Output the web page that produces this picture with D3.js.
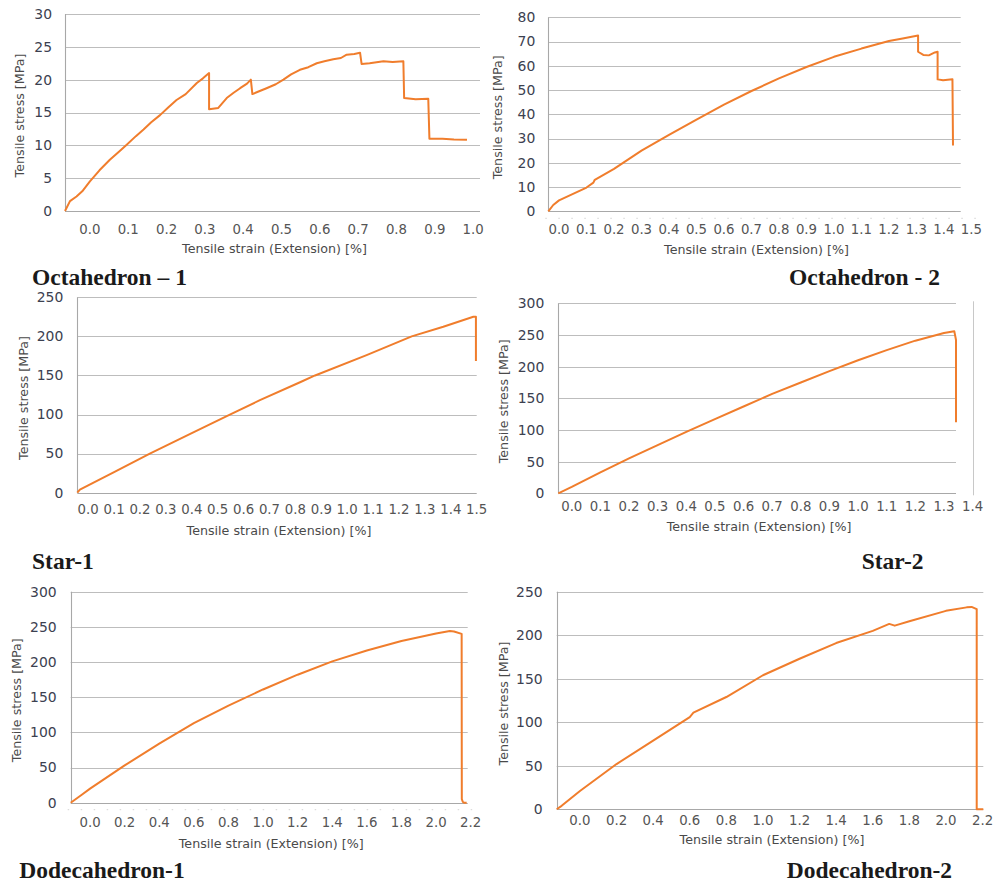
<!DOCTYPE html>
<html><head><meta charset="utf-8">
<script src="https://cdn.jsdelivr.net/npm/d3@7/dist/d3.min.js"></script>
<style>
body{margin:0;background:#fff;}
svg{display:block;}
.sans{font-family:"DejaVu Sans",Verdana,sans-serif;}
.ptitle{font-family:"Liberation Serif","Times New Roman",serif;font-weight:bold;font-size:23.5px;fill:#1a1a1a;}
</style>
</head><body>
<svg id="c" width="995" height="886"></svg>
<script>
// ---------- DATA ----------
const titles = ["Octahedron \u2013 1", "Octahedron - 2", "Star-1", "Star-2", "Dodecahedron-1", "Dodecahedron-2"];
const xLabel = "Tensile strain (Extension) [%]";
const yLabel = "Tensile stress [MPa]";

const octa1Strain = [-0.065,-0.052,-0.035,-0.02,0.0,0.025,0.052,0.075,0.096,0.12,0.14,0.16,0.183,0.205,0.226,0.25,0.279,0.295,0.311,0.311,0.335,0.357,0.375,0.392,0.41,0.42,0.424,0.44,0.461,0.485,0.505,0.525,0.548,0.57,0.592,0.612,0.635,0.655,0.67,0.69,0.705,0.709,0.73,0.766,0.79,0.818,0.82,0.85,0.883,0.886,0.92,0.95,0.984];
const octa1Stress = [0,1.5,2.2,3.0,4.5,6.2,7.8,9.0,10.1,11.4,12.4,13.5,14.6,15.8,16.9,17.8,19.5,20.2,21.0,15.5,15.7,17.2,18.0,18.7,19.4,20.0,17.8,18.2,18.7,19.3,20.0,20.8,21.5,21.9,22.5,22.8,23.1,23.3,23.8,23.9,24.1,22.4,22.5,22.8,22.7,22.8,17.2,17.0,17.1,11.0,11.0,10.9,10.85];

const octa2Strain = [-0.039,-0.021,0.0,0.1,0.125,0.13,0.2,0.3,0.4,0.5,0.6,0.7,0.8,0.9,1.0,1.1,1.2,1.25,1.306,1.306,1.325,1.345,1.367,1.377,1.377,1.397,1.431,1.433];
const octa2Stress = [0,2.6,4.5,9.8,11.8,13.0,17.5,25,31.5,37.8,44,49.6,54.8,59.5,63.7,67.1,70.2,71.3,72.5,65.8,64.5,64.3,65.5,65.8,54.4,54.0,54.5,27.1];

const star1Strain = [-0.042,-0.032,0.0,0.1,0.238,0.4,0.547,0.663,0.818,0.876,1.075,1.249,1.371,1.487,1.497,1.497];
const star1Stress = [0,4,9.4,26.4,50,76.2,100,118.4,141.3,150,176,200,212.4,225.2,225.2,168.5];

const star2Strain = [-0.047,0.0,0.1,0.2,0.3,0.4,0.5,0.6,0.7,0.8,0.9,1.0,1.1,1.2,1.3,1.336,1.342,1.342];
const star2Stress = [0,10,33,55,76,97,117,137,157,175,193,210,226,241,253,256,242,112];

const dode1Strain = [-0.112,-0.05,0.0,0.2,0.4,0.6,0.8,1.0,1.2,1.4,1.6,1.8,2.0,2.08,2.104,2.148,2.149,2.155,2.162,2.177];
const dode1Stress = [0,11,20,53,84,113,138,161,182,201,216.5,230,240.5,244,243.5,240,5,1,0,0];

const dode2Strain = [-0.127,-0.1,0.0,0.2,0.4,0.6,0.62,0.8,1.0,1.2,1.4,1.6,1.69,1.72,1.8,2.0,2.113,2.14,2.168,2.168,2.204];
const dode2Stress = [0,4,21,52,79,106,111,129,154,173,191,205,213,211,216,228,232,232.5,230,0,0];

const xTicksA = [0.0,0.1,0.2,0.3,0.4,0.5,0.6,0.7,0.8,0.9,1.0];
const xTicksB = [0.0,0.1,0.2,0.3,0.4,0.5,0.6,0.7,0.8,0.9,1.0,1.1,1.2,1.3,1.4,1.5];
const xTicksC = [0.0,0.1,0.2,0.3,0.4,0.5,0.6,0.7,0.8,0.9,1.0,1.1,1.2,1.3,1.4];
const xTicksD = [0.0,0.2,0.4,0.6,0.8,1.0,1.2,1.4,1.6,1.8,2.0,2.2];
const yTicks30 = [0,5,10,15,20,25,30];
const yTicks80 = [0,10,20,30,40,50,60,70,80];
const yTicks250 = [0,50,100,150,200,250];
const yTicks300 = [0,50,100,150,200,250,300];

// ---------- LAYOUT ----------
const layout = [
  {x:octa1Strain, y:octa1Stress, xt:xTicksA, yt:yTicks30, xd:[-0.065,1.018], xr:[65,480], yr:[211,14],
   lblDy:18, xtDy:38, ytx:20, tickR:13, tx:32, ty:285, dots:false},
  {x:octa2Strain, y:octa2Stress, xt:xTicksB, yt:yTicks80, xd:[-0.039,1.461], xr:[548.3,960.7], yr:[211.3,17.3],
   lblDy:18, xtDy:38, ytx:498, tickR:13, tx:789, ty:285, dots:true},
  {x:star1Strain, y:star1Stress, xt:xTicksB, yt:yTicks250, xd:[-0.042,1.5], xr:[77.3,476.7], yr:[492.7,297.3],
   lblDy:17, xtDy:38, ytx:24, tickR:14, tx:32, ty:569, dots:false},
  {x:star2Strain, y:star2Stress, xt:xTicksC, yt:yTicks300, xd:[-0.047,1.342], xr:[558.3,956], yr:[493.3,303.3],
   lblDy:13, xtDy:33, ytx:504, tickR:14, tx:861.7, ty:569, dots:false, frameAt:1.4},
  {x:dode1Strain, y:dode1Stress, xt:xTicksD, yt:yTicks300, xd:[-0.112,2.183], xr:[70.7,467.7], yr:[802.7,591.7],
   lblDy:20, xtDy:40.6, ytx:16.7, tickR:14, tx:19.3, ty:878, dots:true},
  {x:dode2Strain, y:dode2Stress, xt:xTicksD, yt:yTicks250, xd:[-0.127,2.204], xr:[556.7,983.3], yr:[809.3,591.7],
   lblDy:11, xtDy:30, ytx:503.3, tickR:14, tx:786.7, ty:878, dots:false}
];

const svg = d3.select("#c");
svg.append("rect").attr("width",995).attr("height",886).attr("fill","#fff");

// calibrate sans font size so the axis title has the reference width (~185px)
const probe = svg.append("text").attr("class","sans").attr("font-size",10).text(xLabel);
const w10 = probe.node().getComputedTextLength() || 175;
probe.remove();
const k = Math.max(0.9, Math.min(1.4, 185 / w10));
const fsTitle = 10 * k, fsX = 10.5 * k, fsY = 11 * k;

layout.forEach((p, i) => {
  const yMax = p.yt[p.yt.length-1];
  const xs = d3.scaleLinear().domain(p.xd).range(p.xr);
  const ys = d3.scaleLinear().domain([0, yMax]).range(p.yr);
  const g = svg.append("g");

  g.selectAll("line.grid").data(p.yt).join("line")
    .attr("x1", p.xr[0]).attr("x2", p.xr[1])
    .attr("y1", d => Math.round(ys(d)) + 0.5).attr("y2", d => Math.round(ys(d)) + 0.5)
    .attr("stroke", d => d === 0 ? "#a8a8a8" : "#bdbdbd").attr("stroke-width", 1.1);
  g.append("line").attr("x1", Math.round(p.xr[0]) + 0.5).attr("x2", Math.round(p.xr[0]) + 0.5)
    .attr("y1", p.yr[1]).attr("y2", p.yr[0]).attr("stroke", "#a8a8a8").attr("stroke-width", 1.1);

  if (p.frameAt !== undefined) {
    g.append("line").attr("x1", Math.round(xs(p.frameAt)) + 0.5).attr("x2", Math.round(xs(p.frameAt)) + 0.5)
      .attr("y1", p.yr[1] - 2).attr("y2", p.yr[0] + 2).attr("stroke", "#c8c8c8").attr("stroke-width", 1);
  }
  if (p.dots) {
    g.append("line").attr("x1", p.xr[0] - 3).attr("x2", xs(p.xt[p.xt.length-1]) + 8)
      .attr("y1", p.yr[0] + 7).attr("y2", p.yr[0] + 7)
      .attr("stroke", "#d4d4d4").attr("stroke-width", 1).attr("stroke-dasharray", "1.5,11.5");
  }

  g.selectAll("text.ty").data(p.yt).join("text").attr("class","sans")
    .attr("font-size", fsY).attr("fill", "#3c4150")
    .attr("x", p.xr[0] - p.tickR).attr("y", d => ys(d)).attr("dy","0.35em")
    .attr("text-anchor","end").text(d => d3.format("d")(d));
  g.selectAll("text.tx").data(p.xt).join("text").attr("class","sans")
    .attr("font-size", fsX).attr("fill", "#555")
    .attr("x", d => xs(d)).attr("y", p.yr[0] + p.lblDy).attr("dy","0.35em")
    .attr("text-anchor","middle").text(d => d3.format(".1f")(d));

  g.append("text").attr("class","sans").attr("font-size", fsTitle).attr("fill", "#4a4a4a")
    .attr("x", (p.xr[0] + p.xr[1]) / 2 + 2).attr("y", p.yr[0] + p.xtDy).attr("dy","0.35em")
    .attr("text-anchor","middle").text(xLabel);
  const yc = (p.yr[0] + p.yr[1]) / 2 + 3;
  g.append("text").attr("class","sans").attr("font-size", fsTitle).attr("fill", "#4a4a4a")
    .attr("transform", `translate(${p.ytx},${yc}) rotate(-90)`).attr("dy","0.35em")
    .attr("text-anchor","middle").text(yLabel);

  const pts = p.x.map((v, j) => [v, p.y[j]]);
  g.append("path").datum(pts)
    .attr("d", d3.line().x(d => xs(d[0])).y(d => ys(d[1])))
    .attr("fill","none").attr("stroke","#f07d2c").attr("stroke-width",2)
    .attr("stroke-linejoin","round");

  g.append("text").attr("class","ptitle").attr("x", p.tx).attr("y", p.ty).text(titles[i]);
});
</script>
</body></html>
